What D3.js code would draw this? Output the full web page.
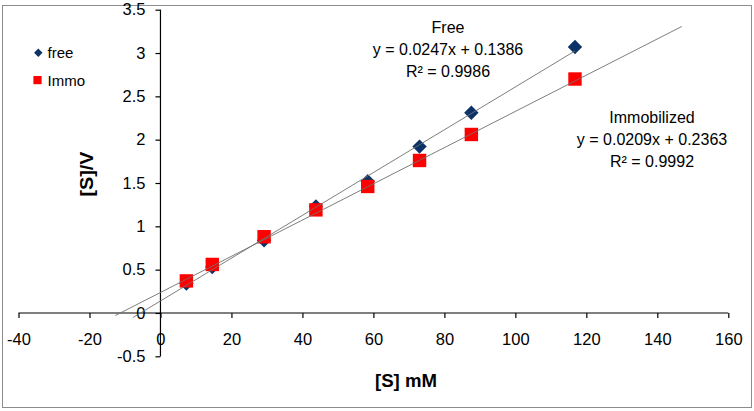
<!DOCTYPE html>
<html>
<head>
<meta charset="utf-8">
<script src="https://cdn.jsdelivr.net/npm/d3@7/dist/d3.min.js"></script>
<style>
  html, body { margin: 0; padding: 0; background: #fff; }
  svg { display: block; font-family: "Liberation Sans", Arial, sans-serif; }
</style>
</head>
<body>
<svg id="chart" width="754" height="411"></svg>
<script>
// ---- data ----
const substrate = [7.3, 14.6, 29.2, 43.8, 58.4, 73, 87.6, 116.8];
const freeValues = [0.34, 0.53, 0.84, 1.23, 1.52, 1.92, 2.31, 3.07];
const immoValues = [0.37, 0.56, 0.88, 1.19, 1.46, 1.76, 2.06, 2.70];
const freeFit = { slope: 0.0247, intercept: 0.1386 };
const immoFit = { slope: 0.0209, intercept: 0.2363 };
const freeFitRange = [-7.7, 116.8];
const immoFitRange = [-12.7, 146.9];
const xTicks = [-40, -20, 0, 20, 40, 60, 80, 100, 120, 140, 160];
const yTicks = [-0.5, 0, 0.5, 1, 1.5, 2, 2.5, 3, 3.5];
const seriesNames = ["free", "Immo"];
const freeLabel = ["Free", "y = 0.0247x + 0.1386", "R² = 0.9986"];
const immoLabel = ["Immobilized", "y = 0.0209x + 0.2363", "R² = 0.9992"];

// ---- layout ----
const svg = d3.select("#chart");
const x = d3.scaleLinear().domain([-40, 160]).range([18.5, 728.3]);
const y = d3.scaleLinear().domain([-0.5, 3.5]).range([356.3, 9.7]);
const navy = "#0b3367", red = "#ff0000", lineCol = "#6f6f6f";
const fmt = d => String(d); // plain hyphen for negatives

// border
svg.append("rect").attr("x", 2.5).attr("y", 5.5).attr("width", 749).attr("height", 402)
  .attr("fill", "#fff").attr("stroke", "#8c8c8c").attr("stroke-width", 1);

// axes
const xAxis = svg.append("g").attr("transform", `translate(0,${y(0)})`)
  .call(d3.axisBottom(x).tickValues(xTicks).tickSize(5).tickPadding(15).tickFormat(fmt));
const yAxis = svg.append("g").attr("transform", `translate(${x(0)},0)`)
  .call(d3.axisLeft(y).tickValues(yTicks).tickSize(5).tickPadding(10).tickFormat(fmt));
[xAxis, yAxis].forEach(g => {
  g.select(".domain").attr("stroke", "#000").attr("stroke-width", 1.2);
  g.selectAll(".tick line").attr("stroke", "#000").attr("stroke-width", 1.2);
  g.selectAll(".tick text").attr("fill", "#000").attr("font-size", 16.5)
    .attr("font-family", "'Liberation Sans', Arial, sans-serif");
});
xAxis.select(".domain").attr("d", `M${x(-40)},0H${x(160)}`);
yAxis.select(".domain").attr("d", `M0,${y(-0.5)}V${y(3.5)}`);

// markers
const diamond = (s) => `M0,${-s}L${s},0L0,${s}L${-s},0Z`;
svg.append("g").selectAll("path").data(substrate).join("path")
  .attr("d", diamond(7.2))
  .attr("transform", (d, i) => `translate(${x(d)},${y(freeValues[i])})`)
  .attr("fill", navy);
svg.append("g").selectAll("rect").data(substrate).join("rect")
  .attr("x", d => x(d) - 6.7).attr("width", 13.4).attr("height", 13.4)
  .attr("y", (d, i) => y(immoValues[i]) - 6.7)
  .attr("fill", red);

// trendlines
const fitLine = (fit, range) => d3.line().x(d => x(d)).y(d => y(fit.slope * d + fit.intercept))(range);
svg.append("path").attr("d", fitLine(freeFit, freeFitRange))
  .attr("stroke", lineCol).attr("stroke-width", 0.9).attr("fill", "none");
svg.append("path").attr("d", fitLine(immoFit, immoFitRange))
  .attr("stroke", lineCol).attr("stroke-width", 0.9).attr("fill", "none");

// annotations
function block(lines, cx, y0) {
  svg.append("g").selectAll("text").data(lines).join("text")
    .attr("x", cx).attr("y", (d, i) => y0 + i * 22)
    .attr("text-anchor", "middle").attr("font-size", 16).attr("fill", "#000")
    .text(d => d);
}
block(freeLabel, 448, 33);
block(immoLabel, 652, 123);

// axis titles
svg.append("text").attr("x", 406).attr("y", 387).attr("text-anchor", "middle")
  .attr("font-size", 18).attr("font-weight", "bold").attr("fill", "#000")
  .attr("textLength", 62).attr("lengthAdjust", "spacingAndGlyphs").text("[S] mM");
svg.append("text").attr("transform", "translate(93,174) rotate(-90)").attr("text-anchor", "middle")
  .attr("font-size", 18).attr("font-weight", "bold").attr("fill", "#000")
  .attr("textLength", 45).attr("lengthAdjust", "spacingAndGlyphs").text("[S]/V");

// legend
const lg = svg.append("g");
lg.append("path").attr("d", diamond(4.2)).attr("transform", "translate(38.3,52.7)").attr("fill", navy);
lg.append("rect").attr("x", 33.4).attr("y", 76).attr("width", 8.2).attr("height", 8.2).attr("fill", red);
lg.selectAll("text").data(seriesNames).join("text")
  .attr("x", 47.5).attr("y", (d, i) => 58 + i * 27.5)
  .attr("font-size", 15).attr("fill", "#000").text(d => d);
</script>
</body>
</html>
